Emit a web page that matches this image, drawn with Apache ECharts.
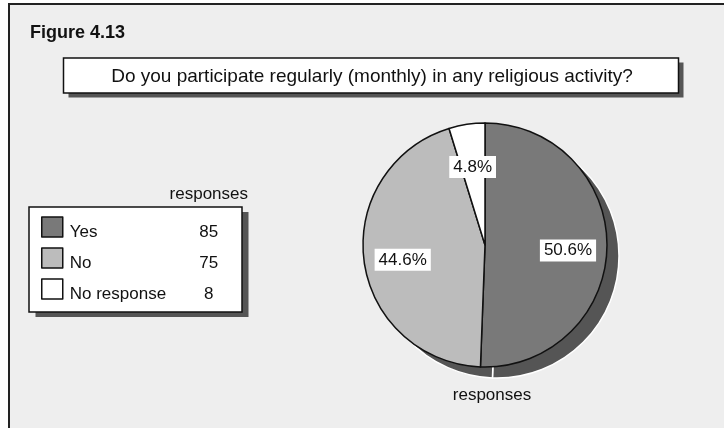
<!DOCTYPE html>
<html>
<head>
<meta charset="utf-8">
<script src="https://cdn.jsdelivr.net/npm/echarts@6/dist/echarts.min.js"></script>
<style>
  body { margin: 0; background: #fff; }
  #chart { width: 724px; height: 428px; }
</style>
</head>
<body>
<div id="chart"></div>
<script>
// chart data
const categories = ["Yes", "No", "No response"];
const responses = [85, 75, 8];
const sliceColors = ["#797979", "#bcbcbc", "#ffffff"];

const total = responses.reduce((a, b) => a + b, 0);
const pieData = categories.map((c, i) => ({
  name: c,
  value: responses[i],
  itemStyle: { color: sliceColors[i] }
}));

const myChart = echarts.init(document.getElementById("chart"));
const font = "Liberation Sans";
const cx = 485, cy = 245, R = 122;

myChart.setOption({
  animation: false,
  textStyle: { fontFamily: font },
  graphic: [
    // outer frame
    { type: "rect", z: -10, shape: { x: 9, y: 4, width: 730, height: 440 },
      style: { fill: "#eeeeee", stroke: "#222", lineWidth: 2 } },
    { type: "text", z: 5, style: { x: 30, y: 33.5, text: "Figure 4.13", verticalAlign: "middle",
      font: "bold 18px " + font, fill: "#111" } },
    // title box
    { type: "rect", z: -5, shape: { x: 68.5, y: 62.5, width: 615, height: 35 }, style: { fill: "#555" } },
    { type: "rect", z: -4, shape: { x: 63.5, y: 58, width: 615, height: 35 },
      style: { fill: "#fff", stroke: "#111", lineWidth: 1.5 } },
    { type: "text", z: 5, style: { x: 372, y: 76.5, text: "Do you participate regularly (monthly) in any religious activity?",
      align: "center", verticalAlign: "middle", font: "19px " + font, fill: "#111" } },
    // legend box
    { type: "rect", z: -5, shape: { x: 35.5, y: 212, width: 213, height: 105 }, style: { fill: "#555" } },
    { type: "rect", z: -4, shape: { x: 29, y: 207, width: 213, height: 105 },
      style: { fill: "#fff", stroke: "#111", lineWidth: 1.5 } },
    { type: "text", z: 5, style: { x: 248, y: 194, text: "responses", align: "right", verticalAlign: "middle",
      font: "17px " + font, fill: "#111" } },
    { type: "text", z: 5, style: { x: 492, y: 395, text: "responses", align: "center", verticalAlign: "middle",
      font: "17px " + font, fill: "#111" } }
  ],
  legend: {
    orient: "vertical",
    left: 41, top: 213.5,
    padding: 0,
    itemWidth: 21, itemHeight: 20, itemGap: 4,
    icon: "rect",
    selectedMode: false,
    data: categories,
    itemStyle: { borderColor: "#111", borderWidth: 1.5 },
    formatter: (name) => {
      const i = categories.indexOf(name);
      return "{n|" + name + "}{v|" + responses[i] + "}";
    },
    textStyle: {
      fontFamily: font, fontSize: 17, color: "#111",
      rich: {
        n: { width: 124, lineHeight: 20, padding: [10, 0, 0, 2], fontFamily: font, fontSize: 17, color: "#111" },
        v: { width: 30, lineHeight: 20, padding: [10, 0, 0, 0], align: "center", fontFamily: font, fontSize: 17, color: "#111" }
      }
    }
  },
  series: [
    {
      type: "pie", name: "responses", z: 3,
      center: [cx, cy], radius: [0, R],
      startAngle: 90, clockwise: true,
      silent: true,
      itemStyle: { borderColor: "#111", borderWidth: 1.5 },
      label: { show: false }, labelLine: { show: false },
      data: pieData
    },
    {
      // drop shadow
      type: "pie", name: "shadow", z: 1,
      center: [cx + 12, cy + 11], radius: [0, R],
      startAngle: 90, clockwise: true, silent: true,
      itemStyle: { color: "#555", borderColor: "#fff", borderWidth: 1.5 },
      label: { show: false }, labelLine: { show: false },
      data: categories.map((c, i) => ({ name: c + " ", value: responses[i] }))
    },
    {
      // percent labels
      type: "pie", name: "labels", z: 4,
      center: [cx, cy], radius: [38, R],
      startAngle: 90, clockwise: true, silent: true,
      itemStyle: { color: "rgba(0,0,0,0)" },
      labelLine: { show: false },
      label: {
        show: true, position: "inside", offset: [0, 4],
        formatter: (p) => (p.value / total * 100).toFixed(1) + "%",
        fontFamily: font, fontSize: 17, color: "#111",
        backgroundColor: "#fff", padding: [3, 4, 2, 4]
      },
      data: categories.map((c, i) => ({ name: c + "  ", value: responses[i] }))
    }
  ]
});
</script>
</body>
</html>
